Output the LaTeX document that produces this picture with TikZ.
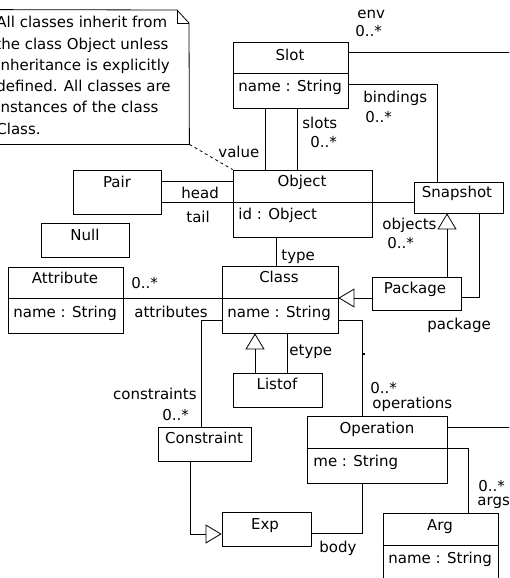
\documentclass[tikz,border=0pt]{standalone}
\usepackage{fontspec}
\setmainfont{DejaVu Sans}
\usetikzlibrary{arrows.meta,fit}
\begin{document}
\begin{tikzpicture}[x=1pt,y=-1pt,line width=0.8pt,
  box/.style={draw,inner sep=0pt},
  area/.style={inner sep=0pt},
  txt/.style={inner sep=0pt,font=\fontsize{15}{21}\selectfont},
  lt/.style={txt,anchor=base west},
  rt/.style={txt,anchor=base east},
  ct/.style={txt,anchor=base},
  gen/.style={-{Triangle[open,length=16pt,width=19pt]}},
  notedash/.style={dash pattern=on 3pt off 3pt}]
\useasboundingbox (0,0) rectangle (509,578);
\fill[white] (0,0) rectangle (509,578);
\clip (0,0) rectangle (509,578);

% note
\node[area,fit={(-10,10) (189,144)}] (note) {};
\draw (note.north west) -- (177,10) -- (189,23) -- (note.south east) -- (note.south west);
\draw (177,10) -- (177,23) -- (189,23);
\node[lt] (n1) at (-4,28) {All classes inherit from};
\node[lt] (n2) at (-5,49.2) {the class Object unless};
\node[lt] (n3) at (-4,70.4) {inheritance is explicitly};
\node[lt] (n4) at (-4,91.6) {defined. All classes are};
\node[lt] (n5) at (-4,112.8) {instances of the class};
\node[lt] (n6) at (-4,134) {Class.};

% boxes
\node[box,fit={(233,42) (348,108)}] (slot) {};
\draw (slot.west |- 0,73) -- (slot.east |- 0,73);
\node[ct] (slotT) at (290,60) {Slot};
\node[lt] (slotA) at (238,92) {name : String};

\node[box,fit={(233,170) (372,237)}] (object) {};
\draw (object.west |- 0,202) -- (object.east |- 0,202);
\node[ct] (objectT) at (302,186) {Object};
\node[lt] (objectA) at (238,219) {id : Object};

\node[box,fit={(73,170) (161,214)}] (pair) {};
\node[ct] (pairT) at (117,187) {Pair};

\node[box,fit={(41,223) (129,257)}] (null) {};
\node[ct] (nullT) at (85,240) {Null};

\node[box,fit={(8,267) (123,333)}] (attr) {};
\draw (attr.west |- 0,298) -- (attr.east |- 0,298);
\node[ct] (attrT) at (65,283) {Attribute};
\node[lt] (attrA) at (13,317) {name : String};

\node[box,fit={(222,266) (338,333)}] (class) {};
\draw (class.west |- 0,298) -- (class.east |- 0,298);
\node[ct] (classT) at (279,282) {Class};
\node[lt] (classA) at (227,317) {name : String};

\node[box,fit={(414,182) (503,213)}] (snap) {};
\node[ct] (snapT) at (457,197) {Snapshot};

\node[box,fit={(372,277) (461,310)}] (pack) {};
\node[ct] (packT) at (415,293) {Package};

\node[box,fit={(233,373) (322,407)}] (listof) {};
\node[ct] (listofT) at (277,389) {Listof};

\node[box,fit={(158,427) (251,461)}] (constr) {};
\node[ct] (constrT) at (204,443) {Constraint};

\node[box,fit={(222,512) (311,546)}] (exp) {};
\node[ct] (expT) at (265,529) {Exp};

\node[box,fit={(307,416) (447,483)}] (oper) {};
\draw (oper.west |- 0,448) -- (oper.east |- 0,448);
\node[ct] (operT) at (377,433) {Operation};
\node[lt] (operA) at (313,466) {me : String};

\node[box,fit={(383,513) (498,600)}] (arg) {};
\draw (arg.west |- 0,545) -- (arg.east |- 0,545);
\node[ct] (argT) at (440,530) {Arg};
\node[lt] (argA) at (388,563) {name : String};

% free ends
\coordinate (envEnd) at (515,52);
\coordinate (opEnd) at (515,427);

% connectors
\draw (slot.east |- 0,52) -- (envEnd);
\node[lt] (envL) at (357,19) {env};
\node[lt] (envM) at (355,37) {0..*};

\draw (slot.east |- 0,84) -| (snap.north -| 437,0);
\node[lt] (bindL) at (363,102) {bindings};
\node[lt] (bindM) at (365,122) {0..*};

\draw (slot.south -| 265,0) -- (object.north -| 265,0);
\draw (slot.south -| 297,0) -- (object.north -| 297,0);
\node[lt] (slotsL) at (302,128) {slots};
\node[lt] (slotsM) at (310,147) {0..*};

\draw[notedash] (note.south east) -- (object.north west);
\node[lt] (valueL) at (218,157) {value};

\draw (pair.east |- 0,181) -- (object.west |- 0,181);
\draw (pair.east |- 0,202) -- (object.west |- 0,202);
\node[lt] (headL) at (181,198) {head};
\node[lt] (tailL) at (186,222) {tail};

\draw (object.east |- 0,202) -- (snap.west |- 0,202);
\node[lt] (objL) at (382,229) {objects};
\node[lt] (objM) at (387,248) {0..*};

\draw (object.south -| 276,0) -- (class.north -| 276,0);
\node[lt] (typeL) at (281,260) {type};

\draw (attr.east |- 0,298) -- (class.west |- 0,298);
\node[lt] (attrM) at (131,288) {0..*};
\node[lt] (attrL) at (134,317) {attributes};

\draw[gen] (pack.west |- 0,298) -- (class.east |- 0,298);
\draw[gen] (pack.north -| 447,0) -- (snap.south -| 447,0);
\draw (pack.east |- 0,297) -| (snap.south -| 479,0);
\node[lt] (packL) at (427,329) {package};

\draw[gen] (listof.north -| 255,0) -- (class.south -| 255,0);
\draw (class.south -| 287,0) -- (listof.north -| 287,0);
\node[lt] (etypeL) at (289,355) {etype};

\draw (class.west |- 0,320) -| (constr.north -| 201,0);
\node[rt] (consL) at (197,399) {constraints};
\node[lt] (consM) at (162,420) {0..*};

\draw[gen] (constr.south -| 190,0) |- (exp.west |- 0,534);

\draw (exp.east |- 0,533) -| (oper.south -| 362,0);
\node[lt] (bodyL) at (319,552) {body};

\draw (class.east |- 0,320) -| (oper.north -| 362,0);
\fill (363,353) rectangle (364.6,354.6);
\node[lt] (opsM) at (370,393) {0..*};
\node[lt] (opsL) at (372,408) {operations};

\draw (oper.east |- 0,427) -- (opEnd);

\draw (oper.east |- 0,448) -| (arg.north -| 468,0);
\node[lt] (argsM) at (478,491) {0..*};
\node[lt] (argsL) at (477,505) {args};
\end{tikzpicture}
\end{document}
